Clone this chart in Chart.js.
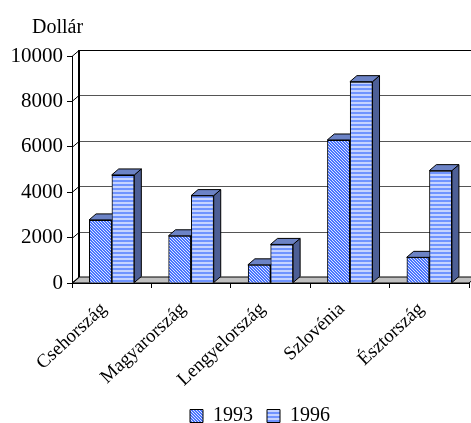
<!DOCTYPE html>
<html>
<head>
<meta charset="utf-8">
<title>Dollár</title>
<script src="https://cdn.jsdelivr.net/npm/chart.js@4/dist/chart.umd.min.js"></script>
<style>
  html, body { margin: 0; padding: 0; background: #fff; }
  #wrap { width: 471px; height: 423px; }
</style>
</head>
<body>
<div id="wrap"><canvas id="chart"></canvas></div>
<script>
// adatok
const categories = ["Csehország", "Magyarország", "Lengyelország", "Szlovénia", "Észtország"];
const values1993 = [2780, 2080, 800, 6300, 1130];
const values1996 = [4760, 3850, 1700, 8870, 4950];
const yTicks = [0, 2000, 4000, 6000, 8000, 10000];
const unitLabel = "Dollár";

const FONT = "'Liberation Serif', 'Times New Roman', serif";
// 3D eltolás a hátsó falig
const DX = 7;
const DY = -6;

// minta a 1993-as oszlopokhoz (sűrű átlós csíkok)
function diagonalPattern() {
  const c = document.createElement("canvas");
  c.width = 3;
  c.height = 3;
  const g = c.getContext("2d");
  g.fillStyle = "#dbe5ff";
  g.fillRect(0, 0, 3, 3);
  g.fillStyle = "#4a74ff";
  for (let i = 0; i < 3; i++) {
    g.fillRect(i, i, 1, 1);
    g.fillRect((i + 1) % 3, i, 1, 1);
  }
  return g.createPattern(c, "repeat");
}

// minta a 1996-os oszlopokhoz (vízszintes csíkok)
function stripePattern() {
  const c = document.createElement("canvas");
  c.width = 4;
  c.height = 4;
  const g = c.getContext("2d");
  g.fillStyle = "#c6d4ff";
  g.fillRect(0, 0, 4, 4);
  g.fillStyle = "#7094ff";
  g.fillRect(0, 0, 4, 2);
  return g.createPattern(c, "repeat");
}

function poly(ctx, pts, fill, stroke, lw) {
  ctx.beginPath();
  pts.forEach((p, i) => (i ? ctx.lineTo(p[0], p[1]) : ctx.moveTo(p[0], p[1])));
  ctx.closePath();
  if (fill) {
    ctx.fillStyle = fill;
    ctx.fill();
  }
  if (stroke) {
    ctx.strokeStyle = stroke;
    ctx.lineWidth = lw || 1;
    ctx.stroke();
  }
}

// hátsó fal, padló és rácsvonalak
const wallPlugin = {
  id: "wall",
  // a cím és a jelmagyarázat helye
  afterLayout(chart) {
    chart.titleBlock.left = 32;
    chart.legend.left = 51;
    chart.legend.top -= 1;
  },
  beforeDatasetsDraw(chart) {
    const { ctx, chartArea: a, scales } = chart;
    const y = scales.y;
    ctx.save();
    // padló
    poly(ctx, [[a.left, a.bottom], [a.left + DX, a.bottom + DY], [a.right + DX, a.bottom + DY], [a.right, a.bottom]], "#c0c0c0", "#000", 1);
    yTicks.forEach((t) => {
      const py = Math.round(y.getPixelForValue(t)) + 0.5;
      ctx.lineWidth = 1;
      // átlós kis vonal a tengelytől a falig
      ctx.strokeStyle = "#000";
      ctx.beginPath();
      ctx.moveTo(a.left, py);
      ctx.lineTo(a.left + DX, py + DY);
      ctx.stroke();
      if (t > 0) {
        ctx.strokeStyle = t === yTicks[yTicks.length - 1] ? "#000" : "#555";
        ctx.beginPath();
        ctx.moveTo(a.left + DX, py + DY);
        ctx.lineTo(a.right + DX, py + DY);
        ctx.stroke();
      }
    });
    // hátsó függőleges vonal
    ctx.strokeStyle = "#000";
    ctx.lineWidth = 2;
    ctx.beginPath();
    ctx.moveTo(a.left + DX, y.getPixelForValue(10000) + DY);
    ctx.lineTo(a.left + DX, a.bottom + DY);
    ctx.stroke();
    ctx.restore();
  },
  // az oszlopok oldal- és tetőlapja, utána újra az eleje, hogy a 1996-os takarjon
  afterDatasetsDraw(chart) {
    const { ctx } = chart;
    ctx.save();
    chart.data.datasets.forEach((ds, i) => {
      chart.getDatasetMeta(i).data.forEach((bar) => {
        const half = bar.width / 2;
        const l = bar.x - half;
        const r = bar.x + half;
        const t = bar.y;
        const b = bar.base;
        poly(ctx, [[r, t], [r + DX, t + DY], [r + DX, b + DY], [r, b]], "#4d5f96", "#000", 1);
        poly(ctx, [[l, t], [l + DX, t + DY], [r + DX, t + DY], [r, t]], "#6c83c6", "#000", 1);
        bar.draw(ctx);
      });
    });
    ctx.restore();
  },
};

new Chart(document.getElementById("chart"), {
  type: "bar",
  data: {
    labels: categories,
    datasets: [
      {
        label: "1993",
        data: values1993,
        backgroundColor: diagonalPattern(),
        borderColor: "#000",
        borderWidth: 1,
        categoryPercentage: 0.57,
        barPercentage: 1,
      },
      {
        label: "1996",
        data: values1996,
        backgroundColor: stripePattern(),
        borderColor: "#000",
        borderWidth: 1,
        categoryPercentage: 0.57,
        barPercentage: 1,
      },
    ],
  },
  options: {
    responsive: true,
    maintainAspectRatio: false,
    animation: false,
    layout: { padding: { left: 0, right: 2, top: 0, bottom: -14 } },
    scales: {
      x: {
        grid: {
          offset: true,
          drawOnChartArea: false,
          drawTicks: true,
          tickLength: 5,
          color: "#000",
        },
        border: { display: true, color: "#000" },
        ticks: {
          color: "#000",
          font: { family: FONT, size: 19 },
          minRotation: 43,
          maxRotation: 43,
          autoSkip: false,
          padding: 10,
          labelOffset: -8,
        },
        afterFit(scale) {
          scale.paddingLeft = 0;
          scale.paddingRight = 0;
          scale.height = 110;
        },
      },
      y: {
        min: 0,
        max: 10000,
        afterBuildTicks(scale) {
          scale.ticks = yTicks.map((v) => ({ value: v }));
        },
        afterFit(scale) {
          scale.width = 72;
          scale.paddingTop = 0;
          scale.paddingBottom = 0;
        },
        grid: { drawOnChartArea: false, tickLength: 5, color: "#000" },
        border: { display: true, color: "#000" },
        ticks: {
          color: "#000",
          font: { family: FONT, size: 21 },
          padding: 4,
          callback: (v) => String(v),
        },
      },
    },
    plugins: {
      title: {
        display: true,
        text: unitLabel,
        align: "start",
        color: "#000",
        font: { family: FONT, size: 20, weight: "normal" },
        padding: { top: 16, bottom: 16 },
      },
      legend: {
        position: "bottom",
        labels: {
          color: "#000",
          font: { family: FONT, size: 20 },
          boxWidth: 13,
          boxHeight: 13,
          padding: 14,
        },
      },
      tooltip: { enabled: false },
    },
  },
  plugins: [wallPlugin],
});
</script>
</body>
</html>
